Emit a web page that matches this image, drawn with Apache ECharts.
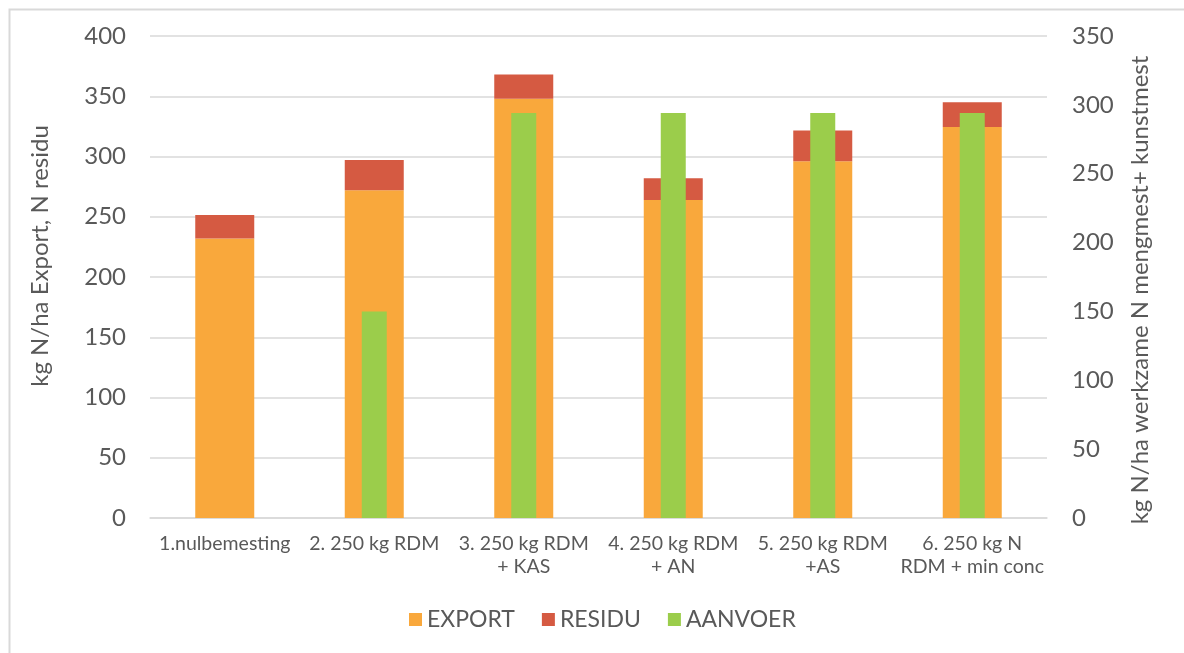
<!DOCTYPE html>
<html>
<head>
<meta charset="utf-8">
<script src="https://cdn.jsdelivr.net/npm/echarts@6/dist/echarts.min.js"></script>
<style>
  html, body { margin: 0; padding: 0; background: #fff; }
  #chart { width: 1184px; height: 653px; }
</style>
</head>
<body>
<div id="chart"></div>
<script>
// Treatments (x axis)
const categories = [
  '1.nulbemesting',
  '2. 250 kg RDM',
  '3. 250 kg RDM\n+ KAS',
  '4. 250 kg RDM\n+ AN',
  '5. 250 kg RDM\n+AS',
  '6. 250 kg N\nRDM + min conc'
];
// kg N/ha, left axis (stacked)
const exportValues = [232, 272, 348, 264, 296, 324.5];
const residuValues = [19.5, 25, 20, 18, 25.5, 20.5];
// kg N/ha werkzame N, right axis
const aanvoerValues = [null, 150, 294, 294, 294, 294];

const leftTicks = { min: 0, max: 400, interval: 50 };
const rightTicks = { min: 0, max: 350, interval: 50 };

const FONT = 'Lato';
const TXT = '#595959';
const GRID = '#d9d9d9';

const chart = echarts.init(document.getElementById('chart'));
chart.setOption({
  animation: false,
  textStyle: { fontFamily: FONT, color: TXT },
  grid: { left: 150, right: 137, top: 36, bottom: 135 },
  graphic: [
    {
      type: 'rect', left: 7, top: 7, silent: true,
      shape: { width: 1200, height: 680 },
      style: { fill: 'none', stroke: GRID, lineWidth: 2 }
    },
    {
      type: 'text', x: 40, y: 256, rotation: Math.PI / 2, silent: true,
      style: {
        text: 'kg N/ha Export, N residu', fontFamily: FONT, fontSize: 24,
        fill: TXT, align: 'center', verticalAlign: 'middle'
      }
    },
    {
      type: 'text', x: 1140, y: 290, rotation: Math.PI / 2, silent: true,
      style: {
        text: 'kg N/ha werkzame N mengmest+ kunstmest', fontFamily: FONT, fontSize: 24,
        fill: TXT, align: 'center', verticalAlign: 'middle'
      }
    }
  ],
  legend: {
    left: 404, top: 603,
    itemWidth: 13, itemHeight: 13, itemGap: 27,
    icon: 'rect',
    textStyle: { fontFamily: FONT, fontSize: 23, color: TXT },
    data: ['EXPORT', 'RESIDU', 'AANVOER']
  },
  xAxis: [
    {
      type: 'category', data: categories,
      axisLine: { lineStyle: { color: GRID, width: 1.5 } },
      axisTick: { show: false },
      axisLabel: {
        interval: 0, fontFamily: FONT, fontSize: 19.5, color: TXT,
        lineHeight: 23, margin: 14
      }
    },
    { type: 'category', data: categories, show: false }
  ],
  yAxis: [
    {
      type: 'value', position: 'left',
      min: leftTicks.min, max: leftTicks.max, interval: leftTicks.interval,
      axisLine: { show: false }, axisTick: { show: false },
      axisLabel: { fontFamily: FONT, fontSize: 24, color: TXT, margin: 24 },
      splitLine: { lineStyle: { color: GRID, width: 1.5 } }
    },
    {
      type: 'value', position: 'right',
      min: rightTicks.min, max: rightTicks.max, interval: rightTicks.interval,
      axisLine: { show: false }, axisTick: { show: false },
      axisLabel: { fontFamily: FONT, fontSize: 24, color: TXT, margin: 25 },
      splitLine: { show: false }
    }
  ],
  series: [
    {
      name: 'EXPORT', type: 'bar', stack: 'n', data: exportValues,
      xAxisIndex: 0, yAxisIndex: 0, barWidth: 59,
      itemStyle: { color: '#F9A83C' }
    },
    {
      name: 'RESIDU', type: 'bar', stack: 'n', data: residuValues,
      xAxisIndex: 0, yAxisIndex: 0, barWidth: 59,
      itemStyle: { color: '#D55A42' }
    },
    {
      name: 'AANVOER', type: 'bar', data: aanvoerValues,
      xAxisIndex: 1, yAxisIndex: 1, barWidth: 25,
      itemStyle: { color: '#9BCD4B' }
    }
  ]
});
</script>
</body>
</html>
